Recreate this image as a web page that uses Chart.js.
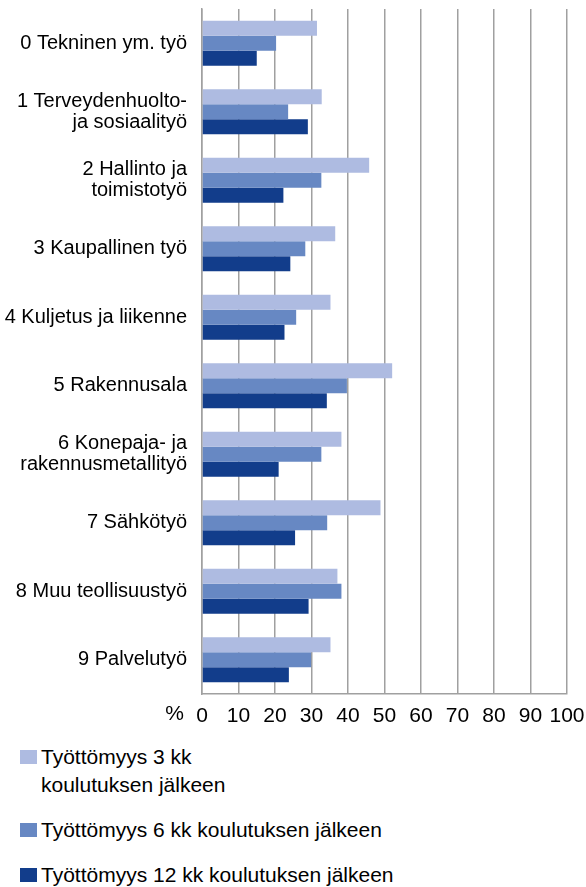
<!DOCTYPE html>
<html>
<head>
<meta charset="utf-8">
<script src="https://cdn.jsdelivr.net/npm/chart.js@4.4.1/dist/chart.umd.min.js"></script>
<style>
  body { margin: 0; background: #fff; font-family: 'Liberation Sans', Arial, sans-serif; }
  #wrap { position: relative; width: 586px; height: 887px; }
  #chartBox { position: absolute; left: 0; top: 0; width: 586px; height: 732px; }
  #legend { position: absolute; left: 20px; top: 743px; }
  .item { display: flex; align-items: flex-start; margin-bottom: 17px; font-size: 21px; line-height: 28px; color: #000; }
  .box { width: 17px; height: 14px; margin-top: 7px; margin-right: 4px; flex: none; }
</style>
</head>
<body>
<div id="wrap">
  <div id="chartBox"><canvas id="chart"></canvas></div>
  <div id="legend"></div>
</div>
<script>
const categories = [
  '0 Tekninen ym. työ',
  ['1 Terveydenhuolto-', 'ja sosiaalityö'],
  ['2 Hallinto ja', 'toimistotyö'],
  '3 Kaupallinen työ',
  '4 Kuljetus ja liikenne',
  '5 Rakennusala',
  ['6 Konepaja- ja', 'rakennusmetallityö'],
  '7 Sähkötyö',
  '8 Muu teollisuustyö',
  '9 Palvelutyö',
];

const seriesNames = [
  ['Työttömyys 3 kk', 'koulutuksen jälkeen'],
  ['Työttömyys 6 kk koulutuksen jälkeen'],
  ['Työttömyys 12 kk koulutuksen jälkeen'],
];

const after3 = [31.5, 32.8, 45.8, 36.5, 35.2, 52.1, 38.2, 48.9, 37.1, 35.2];
const after6 = [20.3, 23.6, 32.7, 28.3, 25.8, 39.7, 32.7, 34.3, 38.2, 29.9];
const after12 = [15.0, 29.0, 22.3, 24.2, 22.6, 34.2, 21.0, 25.5, 29.2, 23.8];

const seriesColors = ['#aebbe1', '#6788c3', '#123d8b'];
const axisUnit = '%';

const fontFamily = "'Liberation Sans', Arial, sans-serif";
const gridColor = '#a0a0a0';

Chart.defaults.font.family = fontFamily;
Chart.defaults.color = '#000';

// "%" sits left of the x tick labels
const percentSign = {
  id: 'percentSign',
  afterDraw(chart) {
    const { ctx, chartArea, scales } = chart;
    ctx.save();
    ctx.font = '21px ' + fontFamily;
    ctx.fillStyle = '#000';
    ctx.textAlign = 'right';
    ctx.textBaseline = 'middle';
    ctx.fillText(axisUnit, chartArea.left - 18, scales.x.top + 20);
    ctx.restore();
  },
};

const datasets = [after3, after6, after12].map((values, i) => ({
  label: seriesNames[i].join(' '),
  data: values,
  backgroundColor: seriesColors[i],
  barPercentage: 1,
  categoryPercentage: 0.66,
}));

const chart = new Chart(document.getElementById('chart'), {
  type: 'bar',
  data: { labels: categories, datasets },
  options: {
    indexAxis: 'y',
    responsive: true,
    maintainAspectRatio: false,
    animation: false,
    layout: { padding: { top: 9, right: 19, bottom: 6, left: 0 } },
    plugins: {
      legend: { display: false },
      tooltip: { enabled: false },
    },
    scales: {
      x: {
        min: 0,
        max: 100,
        afterFit(scale) {
          scale.height = 32;
          scale.paddingLeft = 0;
          scale.paddingRight = 0;
        },
        ticks: {
          stepSize: 10,
          padding: 10,
          maxRotation: 0,
          autoSkip: false,
          font: { size: 21, lineHeight: 1.2 },
        },
        grid: { color: gridColor, lineWidth: 1.5, drawTicks: false },
        border: { color: gridColor, width: 1.5 },
      },
      y: {
        afterFit(scale) {
          scale.width = 202;
          scale.paddingTop = 0;
          scale.paddingBottom = 0;
        },
        ticks: {
          padding: 15,
          autoSkip: false,
          font: { size: 20, lineHeight: 1.05 },
        },
        grid: { display: false, drawTicks: false },
        border: { color: gridColor, width: 1.5 },
      },
    },
  },
  plugins: [percentSign],
});

// legend as html so the first entry can wrap like the original
const legend = document.getElementById('legend');
seriesNames.forEach((name, i) => {
  legend.innerHTML += `<div class="item"><span class="box" style="background:${seriesColors[i]}"></span><span>${name.join('<br>')}</span></div>`;
});
</script>
</body>
</html>
